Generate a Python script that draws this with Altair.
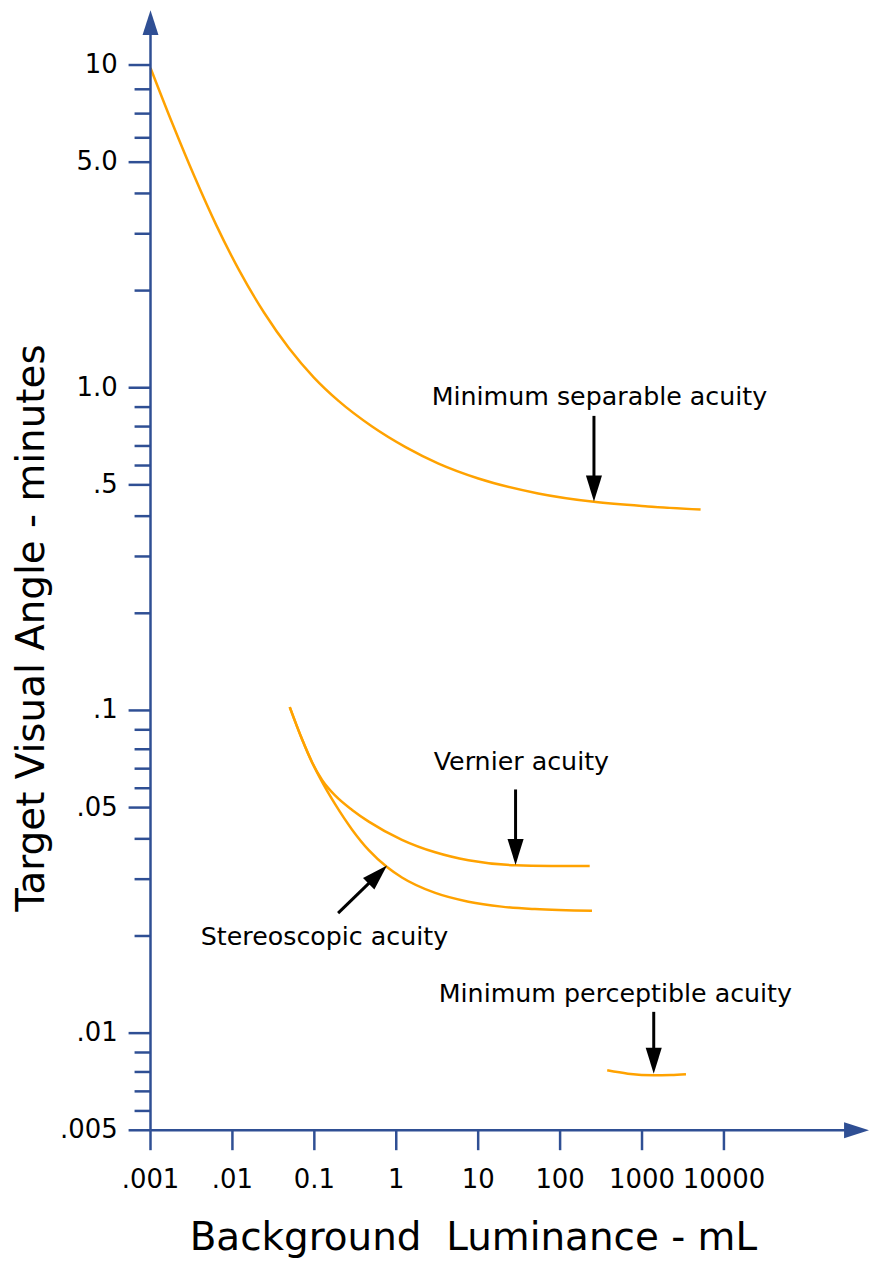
import altair as alt
import pandas as pd

FONT = "DejaVu Sans"
ORANGE = "#FFA200"
AXIS = "#2F4F94"
W, H = 721, 1124

# ---------------- data ----------------
# Minimum separable acuity
sep_lum = [0.001, 0.00185, 0.00343, 0.00635, 0.0121, 0.0244, 0.0491, 0.0989, 0.199, 0.502,
           1.30, 3.28, 10.06, 54.0, 259, 1177, 5190]
sep_ang = [9.79, 6.586, 4.519, 3.190, 2.310, 1.707, 1.325, 1.075, 0.9085, 0.7595,
           0.6545, 0.5820, 0.5233, 0.4704, 0.4431, 0.4288, 0.4192]

# Vernier acuity
ver_lum = [0.0501, 0.0712, 0.0943, 0.1248, 0.1816, 0.2891, 0.4615, 1.173, 2.990, 7.601,
           28.59, 78.40, 229.8]
ver_ang = [0.1024, 0.08108, 0.06884, 0.06079, 0.05434, 0.04917, 0.04524, 0.03974, 0.03635,
           0.03434, 0.03313, 0.03297, 0.03294]

# Stereoscopic acuity
ste_lum = [0.0501, 0.0712, 0.0943, 0.1248, 0.1816, 0.2891, 0.4615, 0.7706, 1.173, 2.990,
           7.601, 19.32, 49.23, 245.1]
ste_ang = [0.1024, 0.08108, 0.06884, 0.05993, 0.05095, 0.04271, 0.03690, 0.03272, 0.03037,
           0.02720, 0.02555, 0.02466, 0.02423, 0.02393]

# Minimum perceptible acuity
per_lum = [376, 672, 1390, 2260, 3440]
per_ang = [0.00767, 0.00749, 0.00740, 0.00742, 0.00746]

# Annotations
ann_text = ["Minimum separable acuity", "Vernier acuity", "Stereoscopic acuity",
            "Minimum perceptible acuity"]
ann_lum = [302, 33.7, 0.133, 473]
ann_ang = [0.885, 0.0656, 0.01875, 0.0125]

# Vertical arrows (tail -> tip)
varr_lum = [259, 28.6, 1390]
varr_ang_from = [0.818, 0.0569, 0.01164]
varr_ang_to = [0.444, 0.0332, 0.00749]

# Diagonal arrow (stereoscopic)
darr_lum_from = [0.195]
darr_ang_from = [0.02354]
darr_lum_to = [0.771]
darr_ang_to = [0.0331]

# Axis ticks and titles
y_major = [10, 5, 1, 0.5, 0.1, 0.05, 0.01, 0.005]
y_major_labels = ["10", "5.0", "1.0", ".5", ".1", ".05", ".01", ".005"]
y_minor = [8.41, 7.07, 5.95, 4, 3, 2,
           0.871, 0.758, 0.660, 0.574, 0.4, 0.3, 0.2,
           0.0871, 0.0758, 0.0660, 0.0574, 0.04, 0.03, 0.02,
           0.00871, 0.00758, 0.00660, 0.00574]
x_major = [0.001, 0.01, 0.1, 1, 10, 100, 1000, 10000]
x_major_labels = [".001", ".01", "0.1", "1", "10", "100", "1000", "10000"]
x_title = "Background\u00a0 Luminance - mL"
y_title = "Target Visual Angle - minutes"

# ---------------- tables ----------------
rows = []
for name, L, A in [("sep", sep_lum, sep_ang), ("ver", ver_lum, ver_ang),
                   ("ste", ste_lum, ste_ang), ("per", per_lum, per_ang)]:
    for i, (l, a) in enumerate(zip(L, A)):
        rows.append({"series": name, "lum": l, "ang": a, "i": i})
curves = pd.DataFrame(rows)

ann = pd.DataFrame({"text": ann_text, "lum": ann_lum, "ang": ann_ang})
varr = pd.DataFrame({"lum": varr_lum, "a0": varr_ang_from, "a1": varr_ang_to})
darr = pd.DataFrame({"l0": darr_lum_from, "a0": darr_ang_from, "l1": darr_lum_to, "a1": darr_ang_to})
ymaj = pd.DataFrame({"v": y_major, "label": y_major_labels})
ymin = pd.DataFrame({"v": y_minor})
xmaj = pd.DataFrame({"v": x_major, "label": x_major_labels})
dummy = pd.DataFrame({"d": [0]})
xt = pd.DataFrame({"t": [x_title]})
yt = pd.DataFrame({"t": [y_title]})

xscale = alt.Scale(type="log", domain=[0.001, 590000], nice=False)
yscale = alt.Scale(type="log", domain=[0.005, 14.79], nice=False)

lines = alt.Chart(curves).mark_line(color=ORANGE, strokeWidth=2.5, interpolate="monotone").encode(
    x=alt.X("lum:Q", scale=xscale, axis=None),
    y=alt.Y("ang:Q", scale=yscale, axis=None),
    detail="series:N",
    order="i:Q",
)

# axis lines and arrowheads
y_line = alt.Chart(dummy).mark_rule(color=AXIS, strokeWidth=2.5).encode(
    x=alt.value(0), y=alt.value(12), y2=alt.value(H))
x_line = alt.Chart(dummy).mark_rule(color=AXIS, strokeWidth=2.5).encode(
    x=alt.value(0), x2=alt.value(W - 12), y=alt.value(H))
UP = "M 0 0 L 0.64 2 L -0.64 2 Z"
RIGHT = "M 0 0 L -2 -0.64 L -2 0.64 Z"
DOWN = "M 0 0 L -0.62 -2 L 0.62 -2 Z"
y_head = alt.Chart(dummy).mark_point(shape=UP, size=625, filled=True, color=AXIS, opacity=1).encode(
    x=alt.value(0), y=alt.value(0))
x_head = alt.Chart(dummy).mark_point(shape=RIGHT, size=625, filled=True, color=AXIS, opacity=1).encode(
    x=alt.value(W), y=alt.value(H))

# ticks
y_major_ticks = alt.Chart(ymaj).mark_rule(color=AXIS, strokeWidth=2.5).encode(
    y=alt.Y("v:Q", scale=yscale, axis=None), x=alt.value(-22), x2=alt.value(0))
y_minor_ticks = alt.Chart(ymin).mark_rule(color=AXIS, strokeWidth=2.5).encode(
    y=alt.Y("v:Q", scale=yscale, axis=None), x=alt.value(-16), x2=alt.value(0))
x_ticks = alt.Chart(xmaj).mark_rule(color=AXIS, strokeWidth=2.5).encode(
    x=alt.X("v:Q", scale=xscale, axis=None), y=alt.value(H), y2=alt.value(H + 20))

y_labels = alt.Chart(ymaj).mark_text(font=FONT, fontSize=26, align="right", baseline="middle",
                                     color="black").encode(
    y=alt.Y("v:Q", scale=yscale, axis=None), x=alt.value(-33), text="label:N")
x_labels = alt.Chart(xmaj).mark_text(font=FONT, fontSize=26, align="center", baseline="alphabetic",
                                     color="black").encode(
    x=alt.X("v:Q", scale=xscale, axis=None), y=alt.value(H + 58), text="label:N")

# axis titles
x_title_layer = alt.Chart(xt).mark_text(font=FONT, fontSize=39, align="center",
                                        baseline="alphabetic", color="black").encode(
    x=alt.value(324), y=alt.value(H + 120), text="t:N")
y_title_layer = alt.Chart(yt).mark_text(font=FONT, fontSize=39, align="center",
                                        baseline="alphabetic", color="black", angle=270).encode(
    x=alt.value(-107), y=alt.value(620), text="t:N")

# annotations
ann_text_layer = alt.Chart(ann).mark_text(font=FONT, fontSize=25.4, align="center",
                                          baseline="alphabetic", color="black").encode(
    x=alt.X("lum:Q", scale=xscale, axis=None),
    y=alt.Y("ang:Q", scale=yscale, axis=None),
    text="text:N")

v_shaft = alt.Chart(varr).mark_rule(color="black", strokeWidth=3, y2Offset=-12).encode(
    x=alt.X("lum:Q", scale=xscale, axis=None),
    y=alt.Y("a0:Q", scale=yscale, axis=None),
    y2=alt.Y2("a1:Q"))
v_head = alt.Chart(varr).mark_point(shape=DOWN, size=676, filled=True, color="black", opacity=1).encode(
    x=alt.X("lum:Q", scale=xscale, axis=None),
    y=alt.Y("a1:Q", scale=yscale, axis=None))

d_shaft = alt.Chart(darr).mark_rule(color="black", strokeWidth=3, x2Offset=-9, y2Offset=9).encode(
    x=alt.X("l0:Q", scale=xscale, axis=None),
    y=alt.Y("a0:Q", scale=yscale, axis=None),
    x2=alt.X2("l1:Q"), y2=alt.Y2("a1:Q"))
d_head = alt.Chart(darr).mark_point(shape=DOWN, size=676, filled=True, color="black", opacity=1,
                                    angle=225).encode(
    x=alt.X("l1:Q", scale=xscale, axis=None),
    y=alt.Y("a1:Q", scale=yscale, axis=None))

chart = alt.layer(
    lines, y_line, x_line, y_head, x_head, y_major_ticks, y_minor_ticks, x_ticks,
    y_labels, x_labels, x_title_layer, y_title_layer,
    ann_text_layer, v_shaft, v_head, d_shaft, d_head
).properties(
    width=W, height=H,
    padding={"left": 143, "top": 0, "right": 0, "bottom": 131},
    autosize=alt.AutoSizeParams(type="none"),
    background="white",
).configure_view(strokeWidth=0)

chart.save("out.html", embed_options={"renderer": "svg", "actions": False})
